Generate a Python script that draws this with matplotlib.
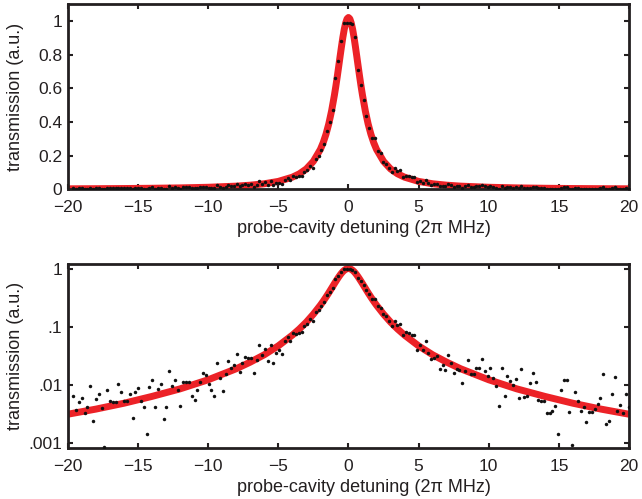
import numpy as np
import matplotlib
matplotlib.use("Agg")
import matplotlib.pyplot as plt
from matplotlib.ticker import FixedLocator, NullLocator

plt.rcParams['font.family'] = ['Liberation Sans', 'DejaVu Sans']

# ---- measured transmission (198 evenly spaced detunings) ----
det_start, det_stop, n_pts = -19.6, 19.96, 198
transmission_neg_far = [
    0.0064, 0.0036, 0.0050, 0.0060, 0.0033, 0.0041, 0.0095, 0.0024, 0.0057, 0.0068,
    0.0040, 0.00084, 0.0080, 0.0052, 0.0050, 0.0051, 0.0103, 0.0076, 0.0052, 0.0052,
    0.0068, 0.0027, 0.0076, 0.0088, 0.0053, 0.0042, 0.0014, 0.0092, 0.0119, 0.0041,
    0.0085, 0.0104, 0.0026, 0.0042, 0.0175, 0.0095, 0.0121, 0.0080, 0.0043, 0.0111,
    0.0113, 0.0113, 0.0065, 0.0054, 0.0080, 0.0111, 0.0159, 0.0149, 0.0104]
transmission_neg_near = [
    0.0082, 0.0064, 0.0237, 0.0129, 0.0078, 0.0155, 0.0253, 0.0194, 0.0221, 0.0339,
    0.0168, 0.0237, 0.0308, 0.0285, 0.0292, 0.0159, 0.0270, 0.0478, 0.0330, 0.0413,
    0.0260, 0.0484, 0.0240, 0.0357, 0.0392, 0.0339, 0.0575, 0.0675, 0.0568, 0.0771,
    0.0740, 0.0771, 0.0802, 0.102, 0.112, 0.138, 0.126, 0.182, 0.197, 0.231,
    0.268, 0.349, 0.398, 0.473, 0.66, 0.76, 0.88, 0.99, 0.99]
transmission_pos_near = [
    0.99, 0.98, 0.906, 0.71, 0.617, 0.533, 0.438, 0.363, 0.305, 0.305,
    0.229, 0.214, 0.164, 0.153, 0.127, 0.103, 0.126, 0.106, 0.113, 0.0711,
    0.0813, 0.0771, 0.0731, 0.0711, 0.0407, 0.0478, 0.0392, 0.0560, 0.0348, 0.0281,
    0.0289, 0.0313, 0.0184, 0.0216, 0.0177, 0.0321, 0.0240, 0.0159, 0.0184, 0.0182,
    0.0107, 0.0172, 0.0267, 0.0155, 0.0153, 0.0194, 0.0199, 0.0274, 0.0170, 0.0141]
transmission_pos_far = [
    0.0194, 0.0132, 0.0097, 0.0043, 0.0194, 0.0063, 0.0143, 0.0116, 0.0100, 0.0127,
    0.0060, 0.0184, 0.0062, 0.0065, 0.0107, 0.0159, 0.0110, 0.0054, 0.0053, 0.0053,
    0.0032, 0.0032, 0.0035, 0.0043, 0.0014, 0.0082, 0.0119, 0.0119, 0.0034, 0.00092,
    0.0075, 0.0052, 0.0035, 0.0041, 0.0023, 0.0034, 0.0034, 0.0038, 0.0046, 0.0059,
    0.0151, 0.0021, 0.0024, 0.0069, 0.0134, 0.0035, 0.0044, 0.0033, 0.0069, 0.0041]

# ---- fitted curve ----
fit_detuning = [-20, -18, -16, -14, -12, -10, -8, -7, -6, -5, -4, -3.5, -3, -2.5, -2,
                -1.8, -1.6, -1.4, -1.2, -1.0, -0.9, -0.8, -0.7, -0.6, -0.5, -0.4, -0.3,
                -0.2, -0.1, 0, 0.1, 0.2, 0.3, 0.4, 0.5, 0.6, 0.7, 0.8, 0.9, 1.0, 1.2,
                1.4, 1.6, 1.8, 2, 2.5, 3, 3.5, 4, 5, 6, 7, 8, 10, 12, 14, 16, 18, 20]
fit_transmission = [0.0031, 0.0038, 0.0048, 0.0063, 0.0085, 0.0122, 0.0189, 0.0246,
                    0.033, 0.047, 0.072, 0.092, 0.121, 0.166, 0.237, 0.277, 0.327, 0.389,
                    0.466, 0.559, 0.611, 0.667, 0.726, 0.786, 0.845, 0.901, 0.949, 0.987,
                    1.012, 1.02, 1.012, 0.987, 0.949, 0.901, 0.845, 0.786, 0.726, 0.667,
                    0.611, 0.559, 0.466, 0.389, 0.327, 0.277, 0.237, 0.166, 0.121, 0.092,
                    0.072, 0.047, 0.033, 0.0246, 0.0189, 0.0122, 0.0085, 0.0063, 0.0048,
                    0.0038, 0.0031]

x_ticks = [-20, -15, -10, -5, 0, 5, 10, 15, 20]
lin_ticks = [0, 0.2, 0.4, 0.6, 0.8, 1]
lin_labels = ['0', '0.2', '0.4', '0.6', '0.8', '1']
log_ticks = [0.001, 0.01, 0.1, 1]
log_labels = ['.001', '.01', '.1', '1']
x_label = 'probe-cavity detuning (2\u03c0 MHz)'
y_label = 'transmission (a.u.)'

detuning = np.linspace(det_start, det_stop, n_pts)
transmission = np.array(transmission_neg_far + transmission_neg_near +
                        transmission_pos_near + transmission_pos_far)

RED = '#ec2227'
TXT = '#231f20'
fig = plt.figure(figsize=(6.42, 4.99), dpi=100)
ax1 = fig.add_axes([0.1055, 0.6206, 0.8745, 0.3714])
ax2 = fig.add_axes([0.1055, 0.1016, 0.8745, 0.3693])

for ax in (ax1, ax2):
    ax.plot(fit_detuning, fit_transmission, color=RED, lw=5.0, solid_capstyle='butt', zorder=2)
    ax.plot(detuning, transmission, 'o', color='#111111', ms=2.5, mew=0, zorder=3)
    ax.set_xlim(-20, 20)
    ax.xaxis.set_major_locator(FixedLocator(x_ticks))
    ax.set_xticklabels(['\u2212' + str(-t) if t < 0 else str(t) for t in x_ticks])
    ax.tick_params(which='both', direction='in', top=True, right=True, length=3.5,
                   width=1.5, labelsize=12.5, colors=TXT, labelcolor=TXT)
    ax.tick_params(axis='x', pad=7.5)
    ax.tick_params(axis='y', pad=4)
    for s in ax.spines.values():
        s.set_linewidth(2.0)
        s.set_color(TXT)
    ax.set_xlabel(x_label, fontsize=13, color=TXT)
    ax.set_ylabel(y_label, fontsize=13, color=TXT)
    ax.xaxis.set_label_coords(0.5275, -0.168)

ax1.set_ylim(0, 1.1)
ax1.yaxis.set_major_locator(FixedLocator(lin_ticks))
ax1.set_yticklabels(lin_labels)
ax1.yaxis.set_label_coords(-0.078, 0.5)

ax2.set_yscale('log')
ax2.set_ylim(0.0008, 1.22)
ax2.yaxis.set_major_locator(FixedLocator(log_ticks))
ax2.yaxis.set_minor_locator(NullLocator())
ax2.set_yticklabels(log_labels)
ax2.yaxis.set_label_coords(-0.078, 0.5)

fig.savefig('out.png', dpi=100)
